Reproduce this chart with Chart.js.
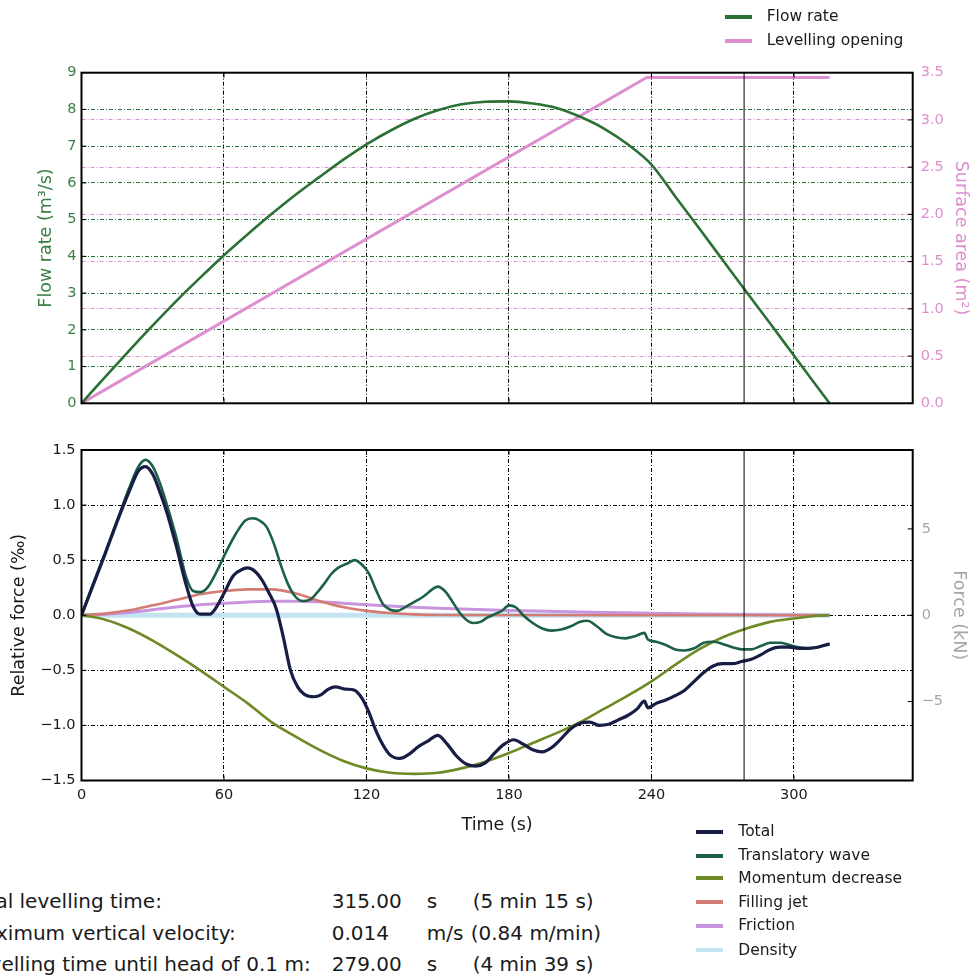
<!DOCTYPE html>
<html>
<head>
<meta charset="utf-8">
<script src="https://cdn.jsdelivr.net/npm/chart.js@4/dist/chart.umd.min.js"></script>
<style>
  html, body { margin: 0; padding: 0; background: #fff; }
  body { width: 971px; height: 980px; position: relative; overflow: hidden; font-family: "DejaVu Sans", sans-serif; color: #1a1a1a; }
  canvas { position: absolute; left: 0; }
  .lg { position: absolute; font-size: 15.5px; line-height: 15.5px; white-space: nowrap; z-index: 5; }
  .sw { position: absolute; height: 4px; width: 27px; z-index: 5; }
  .tx { position: absolute; font-size: 20px; line-height: 20px; white-space: nowrap; z-index: 5; }
</style>
</head>
<body>
<canvas id="top" width="971" height="420" style="top:0"></canvas>
<canvas id="bot" width="971" height="420" style="top:420px"></canvas>
<div id="overlay"></div>
<script>
// ---------------- DATA ----------------
const timeTicksStep = 60;
const headTime = 279; // levelling time until head of 0.1 m (s)

// Top chart: flow rate (m3/s) and levelling opening (m2)
const timeFlow = [0,10,20,30,40,50,60,70,80,90,100,110,120,130,140,150,160,170,180,190,200,210,220,230,240,250,260,270,280,290,300,310,315];
const flowRate = [0,0.72,1.43,2.12,2.79,3.42,4.03,4.6,5.15,5.67,6.15,6.62,7.05,7.42,7.74,7.98,8.14,8.21,8.22,8.16,8.04,7.8,7.48,7.05,6.5,5.63,4.77,3.9,3.03,2.17,1.3,0.43,0.0];
const timeOpening = [0,238,315];
const opening = [0,3.45,3.45];

// Bottom chart: relative force components (per mille)
const timeTotal = [0,5,10,15,20,24,27,30,33,36,40,44,47,50,54,57,60,64,68,70,73,76,79,82,85,88,91,94,98,101,104,107,111,115,118,121,124,127,130,134,138,142,146,150,154,158,162,166,170,174,178,182,186,190,194,198,202,206,210,214,218,222,226,230,234,237,238.5,242,246,250,254,258,262,266,270,274,278,282,286,290,294,298,302,306,310,315];
const total = [0,0.28,0.56,0.85,1.12,1.31,1.35,1.28,1.12,0.93,0.62,0.28,0.08,0.01,0.01,0.08,0.2,0.36,0.42,0.43,0.4,0.32,0.2,0.06,-0.2,-0.5,-0.65,-0.72,-0.74,-0.72,-0.67,-0.65,-0.67,-0.68,-0.75,-0.88,-1.05,-1.18,-1.27,-1.3,-1.26,-1.19,-1.14,-1.09,-1.17,-1.28,-1.35,-1.37,-1.34,-1.25,-1.17,-1.13,-1.17,-1.22,-1.24,-1.2,-1.12,-1.03,-0.98,-0.97,-1.0,-0.99,-0.95,-0.91,-0.85,-0.78,-0.84,-0.8,-0.77,-0.73,-0.68,-0.6,-0.52,-0.46,-0.44,-0.44,-0.42,-0.4,-0.36,-0.31,-0.29,-0.29,-0.3,-0.3,-0.29,-0.26];
const timeWave = [0,5,10,15,20,24,27,30,33,36,40,44,47,50,53,57,61,65,69,72,75,78,81,84,87,90,93,96,99,102,105,108,112,115,118,121,124,127,130,133,136,140,144,148,150,153,156,159,162,165,168,171,174,177,180,183,186,190,194,198,202,206,210,213,217,221,225,229,233,237,238.5,242,246,250,254,258,262,266,270,274,278,282,286,290,294,298,302,306,310,315];
const wave = [0,0.29,0.57,0.86,1.15,1.35,1.41,1.35,1.2,1.0,0.7,0.35,0.22,0.21,0.25,0.4,0.58,0.74,0.86,0.88,0.86,0.8,0.65,0.45,0.28,0.17,0.13,0.14,0.2,0.28,0.37,0.43,0.47,0.5,0.46,0.38,0.23,0.1,0.05,0.04,0.07,0.12,0.17,0.24,0.26,0.22,0.13,0.03,-0.04,-0.07,-0.06,-0.02,0.01,0.04,0.09,0.07,0.0,-0.07,-0.12,-0.14,-0.13,-0.1,-0.06,-0.05,-0.1,-0.17,-0.2,-0.21,-0.19,-0.16,-0.22,-0.24,-0.27,-0.31,-0.32,-0.3,-0.25,-0.24,-0.26,-0.29,-0.31,-0.31,-0.28,-0.25,-0.25,-0.27,-0.29,-0.3,-0.29,-0.26];
const timeMomentum = [0,10,20,30,40,50,60,70,80,90,100,110,120,130,140,150,160,170,180,190,200,210,220,230,240,250,260,270,280,290,300,310,315];
const momentum = [0,-0.04,-0.12,-0.23,-0.36,-0.5,-0.65,-0.8,-0.97,-1.1,-1.22,-1.32,-1.39,-1.43,-1.44,-1.43,-1.39,-1.33,-1.25,-1.16,-1.07,-0.97,-0.85,-0.73,-0.6,-0.45,-0.31,-0.2,-0.12,-0.06,-0.03,-0.005,0];
const timeJet = [0,10,20,30,40,50,60,70,80,90,100,110,120,130,140,150,315];
const jet = [0,0.015,0.045,0.09,0.14,0.19,0.22,0.235,0.235,0.2,0.13,0.075,0.04,0.02,0.008,0.002,0];
const timeFriction = [0,10,20,30,40,50,60,70,80,90,100,110,120,130,140,150,160,170,180,200,220,240,260,280,300,315];
const friction = [0,0.008,0.025,0.05,0.075,0.095,0.108,0.12,0.127,0.128,0.122,0.11,0.095,0.083,0.073,0.064,0.056,0.049,0.043,0.034,0.026,0.019,0.011,0.006,0.003,0];
const timeDensity = [0,315];
const density = [0,0];

// Text block
const infoLabels = ["Total levelling time:", "Maximum vertical velocity:", "Levelling time until head of 0.1 m:"];
const infoValues = ["315.00", "0.014", "279.00"];
const infoUnits = ["s", "m/s", "s"];
const infoNotes = ["(5 min 15 s)", "(0.84 m/min)", "(4 min 39 s)"];

// ---------------- STYLE ----------------
const C = {
  flow: "#2b7034", flowTick: "#3a7f45", open: "#dd8fcf",
  total: "#171d44", wave: "#1c6047", mom: "#6e8a25", jet: "#d27c74", fric: "#c994de", dens: "#c3e2f2",
  gray: "#a6a6a6"
};
const FONT = "DejaVu Sans";
const DASH = [4, 2, 1, 2];
const pts = (xs, ys) => xs.map((x, i) => ({x, y: ys[i]}));
const fmt1 = v => (Math.abs(v) < 1e-9 ? 0 : v).toFixed(1).replace('-', '\u2212');
const fmt0 = v => String(Math.round(v)).replace('-', '\u2212');

// frame and inward tick marks (matplotlib-like)
const framePlugin = {
  id: 'frame',
  afterDraw(chart) {
    const a = chart.chartArea, ctx = chart.ctx;
    ctx.save();
    ctx.strokeStyle = '#000'; ctx.lineWidth = 1;
    const L = 5;
    Object.values(chart.scales).forEach(s => {
      if (!s.options.display) return;
      s.ticks.forEach(t => {
        const p = s.getPixelForValue(t.value);
        ctx.beginPath();
        if (s.axis === 'x') {
          ctx.moveTo(p, a.bottom); ctx.lineTo(p, a.bottom - L);
          ctx.moveTo(p, a.top); ctx.lineTo(p, a.top + L);
        } else if (s.position === 'left') {
          ctx.moveTo(a.left, p); ctx.lineTo(a.left + L, p);
        } else {
          ctx.moveTo(a.right, p); ctx.lineTo(a.right - L, p);
        }
        ctx.stroke();
      });
    });
    ctx.lineWidth = 2;
    ctx.strokeRect(a.left, a.top, a.right - a.left, a.bottom - a.top);
    ctx.restore();
  }
};

Chart.defaults.font.family = FONT;
Chart.defaults.animation = false;

const lineDs = (label, xs, ys, color, width, axis, extra) => Object.assign({
  label, data: pts(xs, ys), borderColor: color, backgroundColor: color,
  borderWidth: width, pointRadius: 0, fill: false, tension: 0, yAxisID: axis
}, extra || {});

// ---------------- TOP CHART ----------------
new Chart(document.getElementById('top'), {
  type: 'line',
  data: { datasets: [
    lineDs('Head time', [headTime, headTime], [0, 9], '#000', 1, 'y'),
    lineDs('Flow rate', timeFlow, flowRate, C.flow, 2.6, 'y', {cubicInterpolationMode: 'monotone'}),
    lineDs('Levelling opening', timeOpening, opening, C.open, 3, 'y2')
  ]},
  options: {
    responsive: false, devicePixelRatio: 1,
    layout: { padding: { left: 35.5, right: 0, top: 72.7, bottom: 12.3 } },
    plugins: { legend: { display: false }, tooltip: { enabled: false } },
    scales: {
      x: { type: 'linear', min: 0, max: 350, z: 1,
        ticks: { stepSize: timeTicksStep, includeBounds: false, display: false },
        grid: { color: '#000', lineWidth: 1, drawTicks: false },
        border: { display: false, dash: DASH },
        afterFit: s => { s.height = 0; } },
      y: { position: 'left', min: 0, max: 9, z: 1,
        ticks: { stepSize: 1, color: C.flowTick, padding: 5, font: { size: 14.5 } },
        grid: { color: C.flow, lineWidth: 1, drawTicks: false },
        border: { display: false, dash: DASH },
        title: { display: true, text: 'Flow rate (m\u00b3/s)', color: C.flowTick, font: { size: 17.5 }, padding: 0 },
        afterFit: s => { s.width = 46; } },
      y2: { position: 'right', min: 0, max: 3.5, z: 1,
        ticks: { stepSize: 0.5, color: C.open, padding: 8, font: { size: 14.5 }, callback: fmt1 },
        grid: { color: C.open, lineWidth: 1, drawTicks: false },
        border: { display: false, dash: DASH },
        title: { display: true, text: 'Surface area (m\u00b2)', color: C.open, font: { size: 17.5 }, padding: 0 },
        afterFit: s => { s.width = 58.3; } }
    }
  },
  plugins: [framePlugin]
});

// ---------------- BOTTOM CHART ----------------
new Chart(document.getElementById('bot'), {
  type: 'line',
  data: { datasets: [
    lineDs('Head time', [headTime, headTime], [-1.5, 1.5], '#000', 1, 'y'),
    lineDs('Total', timeTotal, total, C.total, 3.2, 'y', {cubicInterpolationMode: 'monotone'}),
    lineDs('Translatory wave', timeWave, wave, C.wave, 2.6, 'y', {cubicInterpolationMode: 'monotone'}),
    lineDs('Momentum decrease', timeMomentum, momentum, C.mom, 2.6, 'y', {cubicInterpolationMode: 'monotone'}),
    lineDs('Filling jet', timeJet, jet, C.jet, 2.6, 'y', {cubicInterpolationMode: 'monotone'}),
    lineDs('Friction', timeFriction, friction, C.fric, 3, 'y', {cubicInterpolationMode: 'monotone'}),
    lineDs('Density', timeDensity, density, C.dens, 5, 'y')
  ]},
  options: {
    responsive: false, devicePixelRatio: 1,
    layout: { padding: { left: 8.7, right: 0, top: 30, bottom: 4.5 } },
    plugins: { legend: { display: false }, tooltip: { enabled: false } },
    scales: {
      x: { type: 'linear', min: 0, max: 350, z: 1,
        ticks: { stepSize: timeTicksStep, includeBounds: false, color: '#1a1a1a', padding: 6, font: { size: 14.5 }, maxRotation: 0 },
        grid: { color: '#000', lineWidth: 1, drawTicks: false },
        border: { display: false, dash: DASH },
        title: { display: true, text: 'Time (s)', color: '#1a1a1a', font: { size: 17.5 }, padding: 0 },
        afterFit: s => { s.height = 55; } },
      y: { position: 'left', min: -1.5, max: 1.5, z: 1,
        ticks: { stepSize: 0.5, color: '#1a1a1a', padding: 6, font: { size: 14.5 }, callback: fmt1 },
        grid: { color: '#000', lineWidth: 1, drawTicks: false },
        border: { display: false, dash: DASH },
        title: { display: true, text: 'Relative force (\u2030)', color: '#1a1a1a', font: { size: 17.5 }, padding: 0 },
        afterFit: s => { s.width = 72.8; } },
      y2: { position: 'right', min: -9.57, max: 9.57, z: 1,
        ticks: { stepSize: 5, includeBounds: false, color: C.gray, padding: 9, font: { size: 14.5 }, callback: fmt0 },
        grid: { display: false, drawTicks: false },
        border: { display: false },
        title: { display: true, text: 'Force (kN)', color: C.gray, font: { size: 17.5 }, padding: 1.8 },
        afterFit: s => { s.width = 58.3; } }
    }
  },
  plugins: [framePlugin]
});

// ---------------- LEGENDS & TEXT (HTML) ----------------
const ov = document.getElementById('overlay');
function addLegend(items, swX, txX, rows) {
  items.forEach((it, i) => {
    const sw = document.createElement('div');
    sw.className = 'sw'; sw.style.left = swX + 'px'; sw.style.top = (rows[i] - 2) + 'px'; sw.style.background = it[1];
    ov.appendChild(sw);
    const t = document.createElement('div');
    t.className = 'lg'; t.style.left = txX + 'px'; t.style.top = (rows[i] - 7.5) + 'px'; t.textContent = it[0];
    ov.appendChild(t);
  });
}
addLegend([['Flow rate', C.flow], ['Levelling opening', C.open]], 725, 766.7, [16.7, 40.7]);
addLegend([['Total', C.total], ['Translatory wave', C.wave], ['Momentum decrease', C.mom], ['Filling jet', C.jet], ['Friction', C.fric], ['Density', C.dens]],
  696, 738.3, [831.7, 855.7, 878.3, 902.3, 925.7, 950]);

const baselines = [908, 939.5, 971];
const colX = [[-33.5, -33.5, -33.5], [331.7, 331.7, 331.7], [426.7, 426.7, 426.7], [472.7, 470.7, 472.7]];
[infoLabels, infoValues, infoUnits, infoNotes].forEach((col, c) => {
  col.forEach((s, r) => {
    const d = document.createElement('div');
    d.className = 'tx'; d.style.left = colX[c][r] + 'px'; d.style.top = (baselines[r] - 16.9) + 'px'; d.textContent = s;
    ov.appendChild(d);
  });
});
</script>
</body>
</html>
